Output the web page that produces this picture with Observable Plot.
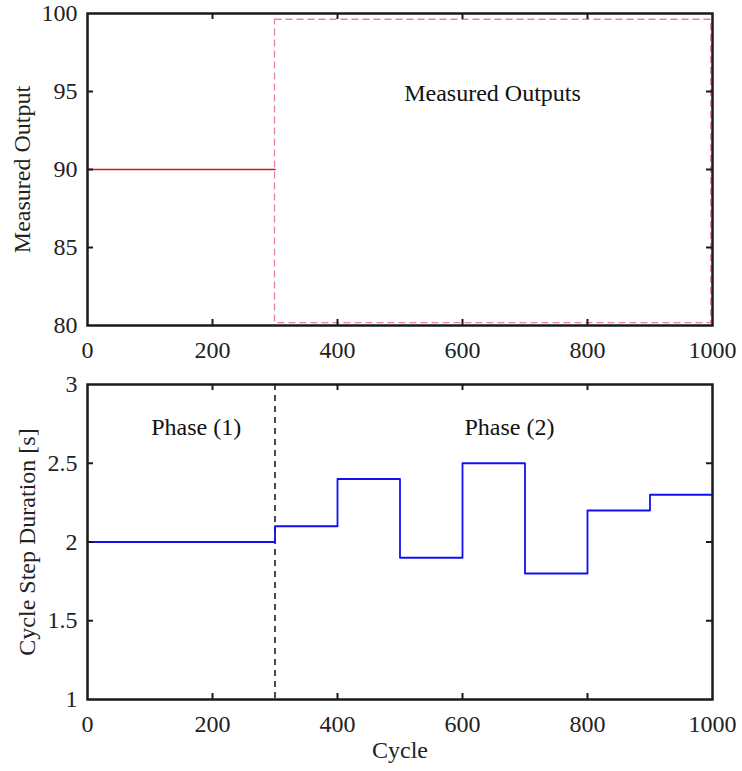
<!DOCTYPE html>
<html>
<head>
<meta charset="utf-8">
<script src="https://cdn.jsdelivr.net/npm/d3@7"></script>
<script src="https://cdn.jsdelivr.net/npm/@observablehq/plot@0.6"></script>
<style>
  html, body { margin: 0; padding: 0; background: #fff; overflow: hidden; }
  #chart svg { display: block; }
  #chart svg text { font-family: 'Liberation Serif', 'Times New Roman', serif; }
</style>
</head>
<body>
<div id="chart"></div>
<script>
// ---- data ----
const xTicks = [0, 200, 400, 600, 800, 1000];
const topYTicks = [80, 85, 90, 95, 100];
const botYTicks = [1, 1.5, 2, 2.5, 3];

// Phase (1) measured output (red)
const outCycles = [0, 300];
const outValues = [90, 90];

// Measured outputs region (pink dashed box)
const regionX = [300, 998];
const regionY = [80.15, 99.6];

// Cycle step duration (blue step line)
const stepCycles = [0, 300, 400, 500, 600, 700, 800, 900, 1000];
const stepValues = [2.0, 2.1, 2.4, 1.9, 2.5, 1.8, 2.2, 2.3, 2.3];

const phaseBoundary = [300];

const topLabel = {text: "Measured Outputs", x: 648, y: 94.9};
const phaseLabels = [
  {text: "Phase (1)", x: 174, y: 2.73},
  {text: "Phase (2)", x: 675, y: 2.73}
];

// ---- layout ----
const W = 742;
const font = "'Liberation Serif', 'Times New Roman', serif";
const FS = 24;
const ml = 87, mr = 30;
const innerTicks = [200, 400, 600, 800];
const tickLen = 6;
const frameColor = "#1a1a1a";
const fmt = d => String(d);

function boxTicks(xT, yT, innerH, innerW) {
  return [
    Plot.tickX(xT, {x: d => d, insetTop: innerH - tickLen, stroke: frameColor, strokeWidth: 2}),
    Plot.tickX(xT, {x: d => d, insetBottom: innerH - tickLen, stroke: frameColor, strokeWidth: 2}),
    Plot.tickY(yT, {y: d => d, insetRight: innerW - tickLen, stroke: frameColor, strokeWidth: 2}),
    Plot.tickY(yT, {y: d => d, insetLeft: innerW - tickLen, stroke: frameColor, strokeWidth: 2})
  ];
}

const style = {fontFamily: font, fontSize: FS + "px", color: "#222", background: "#fff", overflow: "visible"};

// Top panel
const topH = 365, topMT = 13, topMB = 40;
const topInnerH = topH - topMT - topMB;
const innerW = W - ml - mr;

const outData = outCycles.map((c, i) => ({c, v: outValues[i]}));
const topChart = Plot.plot({
  width: W, height: topH,
  marginLeft: ml, marginRight: mr, marginTop: topMT, marginBottom: topMB,
  style,
  x: {domain: [0, 1000]},
  y: {domain: [80, 100]},
  marks: [
    Plot.rect([{x1: regionX[0], x2: regionX[1], y1: regionY[0], y2: regionY[1]}],
      {x1: "x1", x2: "x2", y1: "y1", y2: "y2", fill: "none", stroke: "#e8839f", strokeWidth: 1.3, strokeDasharray: "7,4"}),
    Plot.line(outData, {x: "c", y: "v", stroke: "#e01010", strokeWidth: 1.6}),
    Plot.text([topLabel], {x: "x", y: "y", text: "text", fontSize: FS, fontFamily: font, fill: "#111"}),
    Plot.frame({stroke: frameColor, strokeWidth: 2.5}),
    ...boxTicks(innerTicks, [85, 90, 95], topInnerH, innerW),
    Plot.axisX(xTicks, {anchor: "bottom", tickSize: 0, tickPadding: 15, fontSize: FS, fontFamily: font, tickFormat: fmt, label: null}),
    Plot.axisY(topYTicks, {anchor: "left", tickSize: 0, tickPadding: 10, fontSize: FS, fontFamily: font, tickFormat: fmt, label: null}),
    Plot.text(["Measured Output"], {frameAnchor: "left", textAnchor: "middle", dx: -65, rotate: -90, fontSize: FS, fontFamily: font, fill: "#222"})
  ]
});

// Bottom panel
const botH = 406, botMT = 19, botMB = 72;
const botInnerH = botH - botMT - botMB;
const stepData = stepCycles.map((c, i) => ({c, v: stepValues[i]}));
const bottomChart = Plot.plot({
  width: W, height: botH,
  marginLeft: ml, marginRight: mr, marginTop: botMT, marginBottom: botMB,
  style,
  x: {domain: [0, 1000]},
  y: {domain: [1, 3]},
  marks: [
    Plot.ruleX(phaseBoundary, {stroke: "#111", strokeWidth: 1.5, strokeDasharray: "6,5"}),
    Plot.line(stepData, {x: "c", y: "v", curve: "step-after", stroke: "#1010f0", strokeWidth: 1.8}),
    Plot.text(phaseLabels, {x: "x", y: "y", text: "text", fontSize: FS, fontFamily: font, fill: "#111"}),
    Plot.frame({stroke: frameColor, strokeWidth: 2.5}),
    ...boxTicks(innerTicks, [1.5, 2, 2.5], botInnerH, innerW),
    Plot.axisX(xTicks, {anchor: "bottom", tickSize: 0, tickPadding: 15, fontSize: FS, fontFamily: font, tickFormat: fmt, label: null}),
    Plot.axisY(botYTicks, {anchor: "left", tickSize: 0, tickPadding: 10, fontSize: FS, fontFamily: font, tickFormat: fmt, label: null}),
    Plot.text(["Cycle Step Duration [s]"], {frameAnchor: "left", textAnchor: "middle", dx: -60, rotate: -90, fontSize: FS, fontFamily: font, fill: "#222"}),
    Plot.text(["Cycle"], {frameAnchor: "bottom", dy: 58, fontSize: FS, fontFamily: font, fill: "#222"})
  ]
});

const el = document.getElementById("chart");
el.appendChild(topChart);
el.appendChild(bottomChart);
</script>
</body>
</html>
